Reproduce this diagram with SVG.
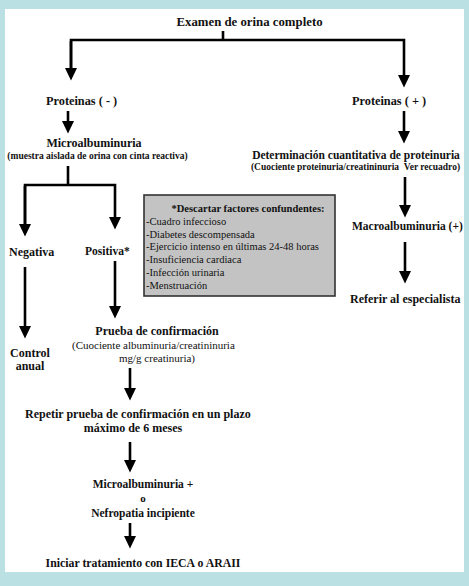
<svg xmlns="http://www.w3.org/2000/svg" width="469" height="586" viewBox="0 0 469 586" font-family="'Liberation Serif', 'Times New Roman', Times, serif">
<style>
  text { font-family: 'Liberation Serif', 'Times New Roman', Times, serif; fill: #111; }
  .b { font-weight: bold; }
  .m { text-anchor: middle; }
  .conn path { fill: none; stroke: #000; stroke-width: 2.6; stroke-linejoin: miter; }
  .box { fill: #c3c3c3; stroke: #333; stroke-width: 1.6; }
</style>
<defs>
  <marker id="ah" markerUnits="userSpaceOnUse" markerWidth="13" markerHeight="12" refX="0" refY="6" orient="auto">
    <path d="M0,0 L12.5,6 L0,12 z" fill="#000"/>
  </marker>
</defs>
<rect x="0" y="0" width="469" height="586" fill="#bbe0e3"/>
<rect x="5" y="9" width="459" height="563" fill="#ffffff"/>

<g class="conn" id="connectors">
  <path d="M223,31 V40"/>
  <path d="M71,68 V40 H404 V75" marker-end="url(#ah)"/>
  <path d="M71,41 V68" marker-end="url(#ah)"/>
  <path d="M68,111 V121" marker-end="url(#ah)"/>
  <path d="M68,166 V185"/>
  <path d="M25,224 V185 H115 V217" marker-end="url(#ah)"/>
  <path d="M25,186 V224" marker-end="url(#ah)"/>
  <path d="M25,267 V326" marker-end="url(#ah)"/>
  <path d="M115,261 V306" marker-end="url(#ah)"/>
  <path d="M130,368 V388" marker-end="url(#ah)"/>
  <path d="M130,442 V460" marker-end="url(#ah)"/>
  <path d="M130,523 V536" marker-end="url(#ah)"/>
  <path d="M404,111 V131" marker-end="url(#ah)"/>
  <path d="M405,177 V205" marker-end="url(#ah)"/>
  <path d="M405,242 V271" marker-end="url(#ah)"/>
</g>

<g id="examen"><text class="b m" x="249.5" y="26" font-size="12.8">Examen de orina completo</text></g>
<g id="prot-neg"><text class="b" x="46" y="105" font-size="12.3">Proteinas ( - )</text></g>
<g id="prot-pos"><text class="b" x="352" y="105" font-size="12.3">Proteinas ( + )</text></g>
<g id="microalb">
  <text class="b m" x="94" y="147" font-size="12">Microalbuminuria</text>
  <text class="b m" x="97.5" y="159" font-size="9.5">(muestra aislada de orina con cinta reactiva)</text>
</g>
<g id="negativa"><text class="b" x="9" y="256" font-size="12">Negativa</text></g>
<g id="positiva"><text class="b" x="85" y="255" font-size="11.5">Positiva*</text></g>
<g id="control">
  <text class="b m" x="30" y="357" font-size="12">Control</text>
  <text class="b m" x="30" y="370" font-size="12">anual</text>
</g>
<g id="prueba">
  <text class="b m" x="157" y="335" font-size="12">Prueba de confirmación</text>
  <text x="72" y="349" font-size="11">(Cuociente albuminuria/creatininuria</text>
  <text class="m" x="157" y="362" font-size="11">mg/g creatinuria)</text>
</g>
<g id="repetir">
  <text class="b" x="25" y="418" font-size="12">Repetir prueba de confirmación en un plazo</text>
  <text class="b m" x="133" y="432" font-size="12">máximo de 6 meses</text>
</g>
<g id="nefropatia">
  <text class="b m" x="143" y="488" font-size="11.5">Microalbuminuria +</text>
  <text class="b m" x="143" y="502" font-size="11">o</text>
  <text class="b m" x="143" y="517" font-size="11.5">Nefropatia incipiente</text>
</g>
<g id="iniciar"><text class="b m" x="143" y="567" font-size="11.8">Iniciar tratamiento con IECA o ARAII</text></g>
<g id="determinacion">
  <text class="b m" x="356" y="159" font-size="11.5">Determinación cuantitativa de proteinuria</text>
  <text class="b m" x="355.5" y="170" font-size="9.5" xml:space="preserve">(Cuociente proteinuria/creatininuria  Ver recuadro)</text>
</g>
<g id="macroalb"><text class="b" x="352" y="230" font-size="11.5">Macroalbuminuria (+)</text></g>
<g id="referir"><text class="b" x="350" y="303" font-size="12">Referir al especialista</text></g>
<g id="factores">
  <rect class="box" x="144" y="195" width="191" height="101"/>
  <text class="b m" x="248" y="212" font-size="10.5">*Descartar factores confundentes:</text>
  <text x="146" y="225" font-size="10.5">-Cuadro infeccioso</text>
  <text x="146" y="238" font-size="10.5">-Diabetes descompensada</text>
  <text x="146" y="250" font-size="10.5">-Ejercicio intenso en últimas 24-48 horas</text>
  <text x="146" y="263" font-size="10.5">-Insuficiencia cardiaca</text>
  <text x="146" y="276" font-size="10.5">-Infección urinaria</text>
  <text x="146" y="289" font-size="10.5">-Menstruación</text>
</g>
</svg>
